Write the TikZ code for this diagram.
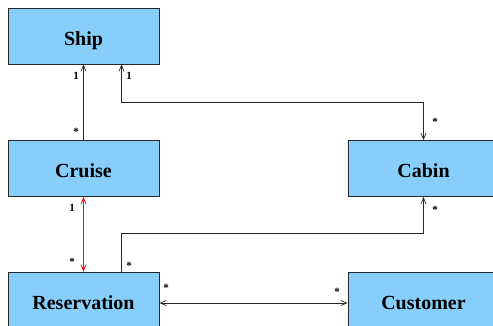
\documentclass[tikz,border=0pt]{standalone}
\usepackage{fontspec}
\setmainfont{Liberation Serif}
\usetikzlibrary{arrows.meta}
\definecolor{boxfill}{RGB}{135,206,250}
\definecolor{linegray}{RGB}{40,40,40}
\tikzset{
  cls/.style={draw=linegray, line width=0.8pt, fill=boxfill, minimum width=151pt, minimum height=56pt, inner sep=0pt, text height=18pt, text depth=0pt, font=\fontsize{20}{24}\selectfont\bfseries},
  conn/.style={draw=linegray, line width=0.7pt, >={Straight Barb[length=6pt,width=5pt]}},
  redconn/.style={draw=red, line width=0.8pt, >={Straight Barb[length=6pt,width=5pt]}},
  mult/.style={font=\fontsize{11}{13}\selectfont\bfseries, inner sep=0pt}
}
\begin{document}
\begin{tikzpicture}[x=1pt,y=-1pt]
\useasboundingbox (0,0) rectangle (493,325);
\begin{scope}
\clip (0,0) rectangle (493,325);
\node[cls] (ship) at (83.5,36) {Ship};
\node[cls] (cruise) at (83.5,168.5) {Cruise};
\node[cls] (cabin) at (423.5,168.5) {Cabin};
\node[cls] (res) at (83.5,300) {Reservation};
\node[cls] (cust) at (423.5,300) {Customer};
\end{scope}
\draw[conn,->] (cruise.north) -- (ship.south);
\draw[conn,<->] ([xshift=38pt]ship.south) -- ++(0,38) -| (cabin.north);
\draw[conn,->] ([xshift=38pt]res.north) -- ++(0,-38) -| (cabin.south);
\draw[redconn,<->] (cruise.south) -- (res.north);
\draw[conn,<->] (res.east |- 0,303) -- (cust.west |- 0,303);
\node[mult] (m1) at (76,76) {1};
\node[mult] (m2) at (129,76) {1};
\node[mult] (m3) at (76,132) {*};
\node[mult] (m4) at (435,122) {*};
\node[mult] (m5) at (72,208) {1};
\node[mult] (m6) at (72,262) {*};
\node[mult] (m7) at (129,266) {*};
\node[mult] (m8) at (435,210) {*};
\node[mult] (m9) at (166,288) {*};
\node[mult] (m10) at (337,292) {*};
\end{tikzpicture}
\end{document}
